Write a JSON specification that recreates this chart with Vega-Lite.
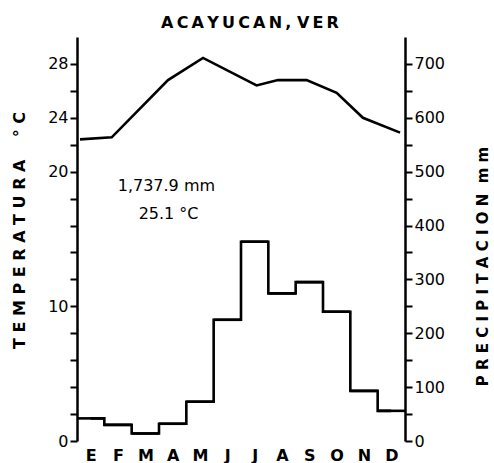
{
  "$schema": "https://vega.github.io/schema/vega-lite/v6.json",
  "width": 328,
  "height": 404,
  "autosize": {"type": "none"},
  "padding": {"left": 77, "top": 37, "right": 89, "bottom": 22},
  "background": "white",
  "config": {
    "view": {"stroke": null},
    "font": "DejaVu Sans",
    "axis": {
      "domainColor": "black",
      "tickColor": "black",
      "labelColor": "black",
      "titleColor": "black",
      "grid": false,
      "labelFont": "DejaVu Sans",
      "titleFont": "DejaVu Sans",
      "labelOverlap": false,
      "labelFlush": false
    },
    "axisBottom": {
      "tickCount": 12,
      "labelExpr": "datum.value < 12 ? ['E','F','M','A','M','J','J','A','S','O','N','D'][floor(datum.value)] : ''",
      "labelOffset": 13.67,
      "labelOverlap": false,
      "domain": false,
      "ticks": false,
      "labelFontSize": 16,
      "labelFontWeight": "bold",
      "labelPadding": 6
    }
  },
  "title": {
    "text": "A\u2009C\u2009A\u2009Y\u2009U\u2009C\u2009A\u2009N\u2009, V\u2009E\u2009R",
    "fontSize": 16,
    "fontWeight": "bold",
    "color": "black",
    "offset": 6,
    "dx": 9,
    "anchor": "middle",
    "font": "DejaVu Sans"
  },
  "datasets": {
    "temp": [
      {"x": 0.11, "t": 22.4},
      {"x": 1.27, "t": 22.55},
      {"x": 3.33, "t": 26.8},
      {"x": 4.61, "t": 28.45},
      {"x": 6.57, "t": 26.4},
      {"x": 7.35, "t": 26.8},
      {"x": 8.4, "t": 26.8},
      {"x": 9.5, "t": 25.85},
      {"x": 10.46, "t": 24.0},
      {"x": 11.82, "t": 22.9}
    ],
    "precip": [
      {"m": "E", "s": 0, "e": 1, "c": 0.5, "p": 42},
      {"m": "F", "s": 1, "e": 2, "c": 1.5, "p": 30},
      {"m": "M", "s": 2, "e": 3, "c": 2.5, "p": 14},
      {"m": "A", "s": 3, "e": 4, "c": 3.5, "p": 32},
      {"m": "M", "s": 4, "e": 5, "c": 4.5, "p": 73},
      {"m": "J", "s": 5, "e": 6, "c": 5.5, "p": 225},
      {"m": "J", "s": 6, "e": 7, "c": 6.5, "p": 370},
      {"m": "A", "s": 7, "e": 8, "c": 7.5, "p": 274},
      {"m": "S", "s": 8, "e": 9, "c": 8.5, "p": 295},
      {"m": "O", "s": 9, "e": 10, "c": 9.5, "p": 240},
      {"m": "N", "s": 10, "e": 11, "c": 10.5, "p": 93},
      {"m": "D", "s": 11, "e": 12, "c": 11.5, "p": 56}
    ],
    "notes": [
      {"x": 3.27, "y": 18.93, "label": "1,737.9 mm"},
      {"x": 3.35, "y": 16.85, "label": "25.1 °C"}
    ]
  },
  "layer": [
    {
      "data": {"name": "temp"},
      "mark": {"type": "line", "color": "black", "strokeWidth": 2.6},
      "encoding": {
        "x": {
          "field": "x", "type": "quantitative", "title": null,
          "scale": {"domain": [0, 12], "nice": false, "zero": false}
        },
        "y": {
          "field": "t", "type": "quantitative",
          "scale": {"domain": [0, 30], "nice": false},
          "axis": {
            "orient": "left",
            "values": [0, 2, 4, 6, 8, 10, 12, 14, 16, 18, 20, 22, 24, 26, 28],
            "labelExpr": "datum.value == 0 || datum.value == 10 || datum.value == 20 || datum.value == 24 || datum.value == 28 ? datum.label : ''",
            "tickSize": 7,
            "tickWidth": 2,
            "domainWidth": 2.5,
            "labelFontSize": 16,
            "labelPadding": 2,
            "title": "T E M P E R A T U R A\u00a0\u00a0\u00a0\u00a0° C",
            "titleFontSize": 16,
            "titleFontWeight": "bold",
            "titleX": -58,
            "titleY": 193,
            "titleAngle": -90,
            "titleAlign": "center",
            "titleBaseline": "middle"
          }
        }
      }
    },
    {
      "mark": {"type": "rule", "color": "black", "strokeWidth": 2},
      "encoding": {
        "y": {"datum": 30, "type": "quantitative", "scale": {"domain": [0, 30], "nice": false}, "axis": null}
      }
    },
    {
      "data": {"name": "notes"},
      "mark": {"type": "text", "fontSize": 16, "color": "black", "font": "DejaVu Sans"},
      "encoding": {
        "x": {"field": "x", "type": "quantitative", "title": null},
        "y": {"field": "y", "type": "quantitative", "scale": {"domain": [0, 30], "nice": false}, "axis": null},
        "text": {"field": "label"}
      }
    },
    {
      "data": {"name": "precip"},
      "mark": {"type": "rule", "color": "black", "strokeWidth": 2.6},
      "encoding": {
        "x": {"field": "s", "type": "quantitative", "title": null},
        "x2": {"field": "e"},
        "y": {
          "field": "p", "type": "quantitative",
          "scale": {"domain": [0, 750], "nice": false},
          "axis": {
            "orient": "right",
            "values": [0, 50, 100, 150, 200, 250, 300, 350, 400, 450, 500, 550, 600, 650, 700],
            "labelExpr": "datum.value % 100 == 0 ? datum.label : ''",
            "tickSize": 7,
            "tickWidth": 2,
            "domainWidth": 2.5,
            "labelFontSize": 16,
            "labelPadding": 2,
            "title": "P R E C I P I T A C I O N\u00a0\u00a0m\u00a0m",
            "titleFontSize": 15,
            "titleFontWeight": "bold",
            "titleX": 77,
            "titleY": 229,
            "titleAngle": -90,
            "titleAlign": "center",
            "titleBaseline": "middle"
          }
        }
      }
    },
    {
      "data": {"name": "precip"},
      "mark": {"type": "line", "interpolate": "step", "color": "black", "strokeWidth": 2.6},
      "encoding": {
        "x": {"field": "c", "type": "quantitative", "title": null},
        "y": {"field": "p", "type": "quantitative", "scale": {"domain": [0, 750], "nice": false}, "axis": null}
      }
    }
  ],
  "resolve": {"scale": {"y": "independent"}}
}
